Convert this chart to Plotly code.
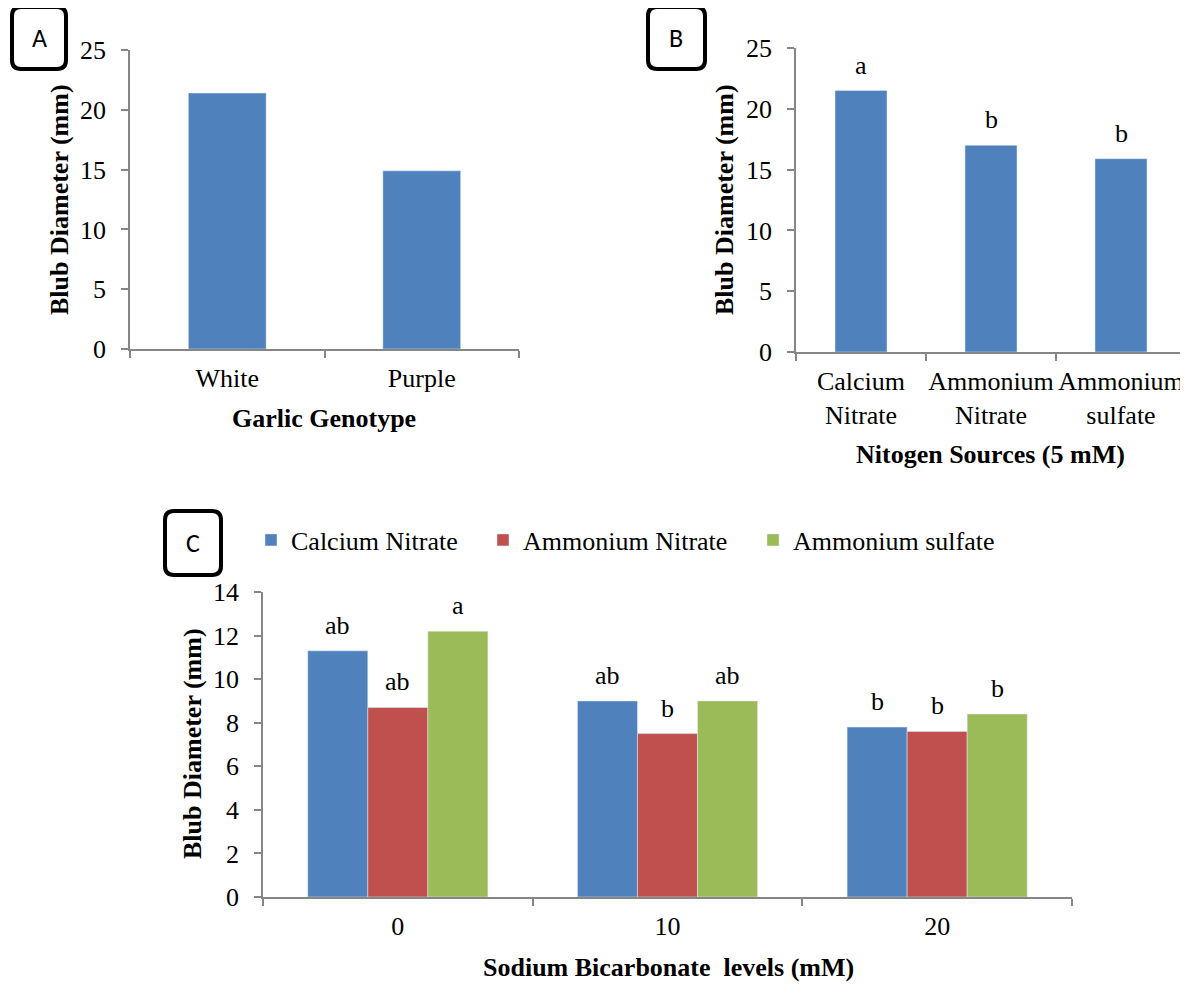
import plotly.graph_objects as go

# ---------------- data ----------------
genotypes = ["White", "Purple"]
genotype_diam = [21.4, 14.9]

n_sources = ["Calcium Nitrate", "Ammonium Nitrate", "Ammonium sulfate"]
n_source_ticks = ["Calcium<br>Nitrate", "Ammonium<br>Nitrate", "Ammonium<br>sulfate"]
n_source_diam = [21.5, 17.0, 15.9]
n_source_letters = ["a", "b", "b"]

bicarb_levels = ["0", "10", "20"]
calcium_nitrate = [11.3, 9.0, 7.8]
ammonium_nitrate = [8.7, 7.5, 7.6]
ammonium_sulfate = [12.2, 9.0, 8.4]
calcium_letters = ["ab", "ab", "b"]
amm_nitrate_letters = ["ab", "b", "b"]
amm_sulfate_letters = ["a", "ab", "b"]

# ---------------- style ----------------
OFF = 8                       # page body margin of the html page
W, H = 1188 - OFF, 984 - OFF  # figure fits the window exactly
SERIF = "Liberation Serif, Times New Roman, serif"
SANS = "Carlito, Liberation Sans, Arial, sans-serif"
FS = 26
AX = "#868686"
BLUE, RED, GREEN = "#4F81BD", "#C0504D", "#9BBB59"
BARGAP_C = 0.332


def px(x):
    """window pixel x -> paper fraction"""
    return (x - OFF) / W


def py(y):
    """window pixel y -> paper fraction"""
    return 1 - (y - OFF) / H


fig = go.Figure()

# Panel A
fig.add_trace(go.Bar(x=genotypes, y=genotype_diam, marker_color=BLUE, width=0.4,
                     xaxis="x", yaxis="y", showlegend=False))
# Panel B
fig.add_trace(go.Bar(x=n_sources, y=n_source_diam, marker_color=BLUE, width=0.4,
                     xaxis="x2", yaxis="y2", showlegend=False))
# Panel C
series = [("Calcium Nitrate", calcium_nitrate, BLUE, calcium_letters, "legend"),
          ("Ammonium Nitrate", ammonium_nitrate, RED, amm_nitrate_letters, "legend2"),
          ("Ammonium sulfate", ammonium_sulfate, GREEN, amm_sulfate_letters, "legend3")]
for name, vals, col, _, lg in series:
    fig.add_trace(go.Bar(x=bicarb_levels, y=vals, name=name, marker_color=col,
                         xaxis="x3", yaxis="y3", legend=lg, showlegend=True))

annotations = []
# letters panel B
for i, (v, t) in enumerate(zip(n_source_diam, n_source_letters)):
    annotations.append(dict(x=n_sources[i], y=v, xref="x2", yref="y2", text=t,
                            showarrow=False, yanchor="bottom", yshift=9,
                            font=dict(family=SERIF, size=FS, color="black")))
# letters panel C
bw = (1 - BARGAP_C) / 3
for j, (_, vals, _, letters, _) in enumerate(series):
    for i, (v, t) in enumerate(zip(vals, letters)):
        annotations.append(dict(x=i + (j - 1) * bw, y=v, xref="x3", yref="y3", text=t,
                                showarrow=False, yanchor="bottom", yshift=9,
                                font=dict(family=SERIF, size=FS, color="black")))

# axis titles
def title(text, x, y, angle=0):
    annotations.append(dict(x=px(x), y=py(y), xref="paper", yref="paper",
                            text="<b>%s</b>" % text, showarrow=False, textangle=angle,
                            xanchor="center", yanchor="middle",
                            font=dict(family=SERIF, size=FS, color="black")))

title("Blub Diameter (mm)", 59, 200, -90)
title("Garlic Genotype", 324, 418)
title("Blub Diameter (mm)", 724, 200, -90)
title("Nitogen Sources (5 mM)", 990, 454)
title("Blub Diameter (mm)", 192, 744, -90)
title("Sodium Bicarbonate\u00a0 levels (mM)", 668, 967)

# panel label boxes
shapes = []


def box(x0, y0, x1, y1, r, label, lx, ly):
    path = ("M {a},{b} L {c},{b} Q {d},{b} {d},{e} L {d},{f} Q {d},{g} {c},{g} "
            "L {a},{g} Q {h},{g} {h},{f} L {h},{e} Q {h},{b} {a},{b} Z").format(
        a=px(x0 + r), b=py(y0), c=px(x1 - r), d=px(x1), e=py(y0 + r),
        f=py(y1 - r), g=py(y1), h=px(x0))
    shapes.append(dict(type="path", path=path, xref="paper", yref="paper",
                       line=dict(color="black", width=4), fillcolor="white"))
    annotations.append(dict(x=px(lx), y=py(ly), xref="paper", yref="paper", text=label,
                            showarrow=False, xanchor="center", yanchor="middle",
                            font=dict(family=SANS, size=26, color="black")))

box(12, 7, 66, 69, 9, "A", 39, 38)
box(648, 7, 705, 69, 9, "B", 676, 38)
box(165, 511, 221, 575, 9, "C", 193, 543)

xcommon = dict(type="category", showline=True, linecolor=AX, linewidth=1.5,
               ticks="outside", ticklen=7, tickcolor=AX, tickwidth=1.5,
               tickson="boundaries", showgrid=False, zeroline=False,
               tickangle=0, automargin=False,
               tickfont=dict(family=SERIF, size=FS, color="black"),
               ticklabelstandoff=5)
ycommon = dict(showline=True, linecolor=AX, linewidth=1.5, ticks="outside",
               ticklen=7, tickcolor=AX, tickwidth=1.5, showgrid=False,
               zeroline=False, automargin=False,
               tickfont=dict(family=SERIF, size=FS, color="black"),
               ticklabelstandoff=10)

legend_common = dict(orientation="h", yanchor="middle", xanchor="left",
                     font=dict(family=SERIF, size=FS, color="black"),
                     bgcolor="rgba(0,0,0,0)", itemwidth=30)

fig.update_layout(
    width=W, height=H, margin=dict(l=0, r=0, t=0, b=0, autoexpand=False),
    paper_bgcolor="white", plot_bgcolor="white",
    barmode="group", bargap=BARGAP_C, bargroupgap=0,
    xaxis=dict(domain=[px(130), px(519)], anchor="y", **xcommon),
    yaxis=dict(domain=[py(349), py(50)], anchor="x", range=[0, 25], dtick=5, **ycommon),
    xaxis2=dict(domain=[px(796), px(1186)], anchor="y2", tickvals=n_sources,
                ticktext=n_source_ticks, **xcommon),
    yaxis2=dict(domain=[py(352), py(48)], anchor="x2", range=[0, 25], dtick=5, **ycommon),
    xaxis3=dict(domain=[px(263), px(1072)], anchor="y3", **xcommon),
    yaxis3=dict(domain=[py(897), py(592)], anchor="x3", range=[0, 14], dtick=2, **ycommon),
    legend=dict(x=px(251), y=py(540), **legend_common),
    legend2=dict(x=px(483), y=py(540), **legend_common),
    legend3=dict(x=px(753), y=py(540), **legend_common),
    annotations=annotations, shapes=shapes,
)

fig.write_html("out.html")
